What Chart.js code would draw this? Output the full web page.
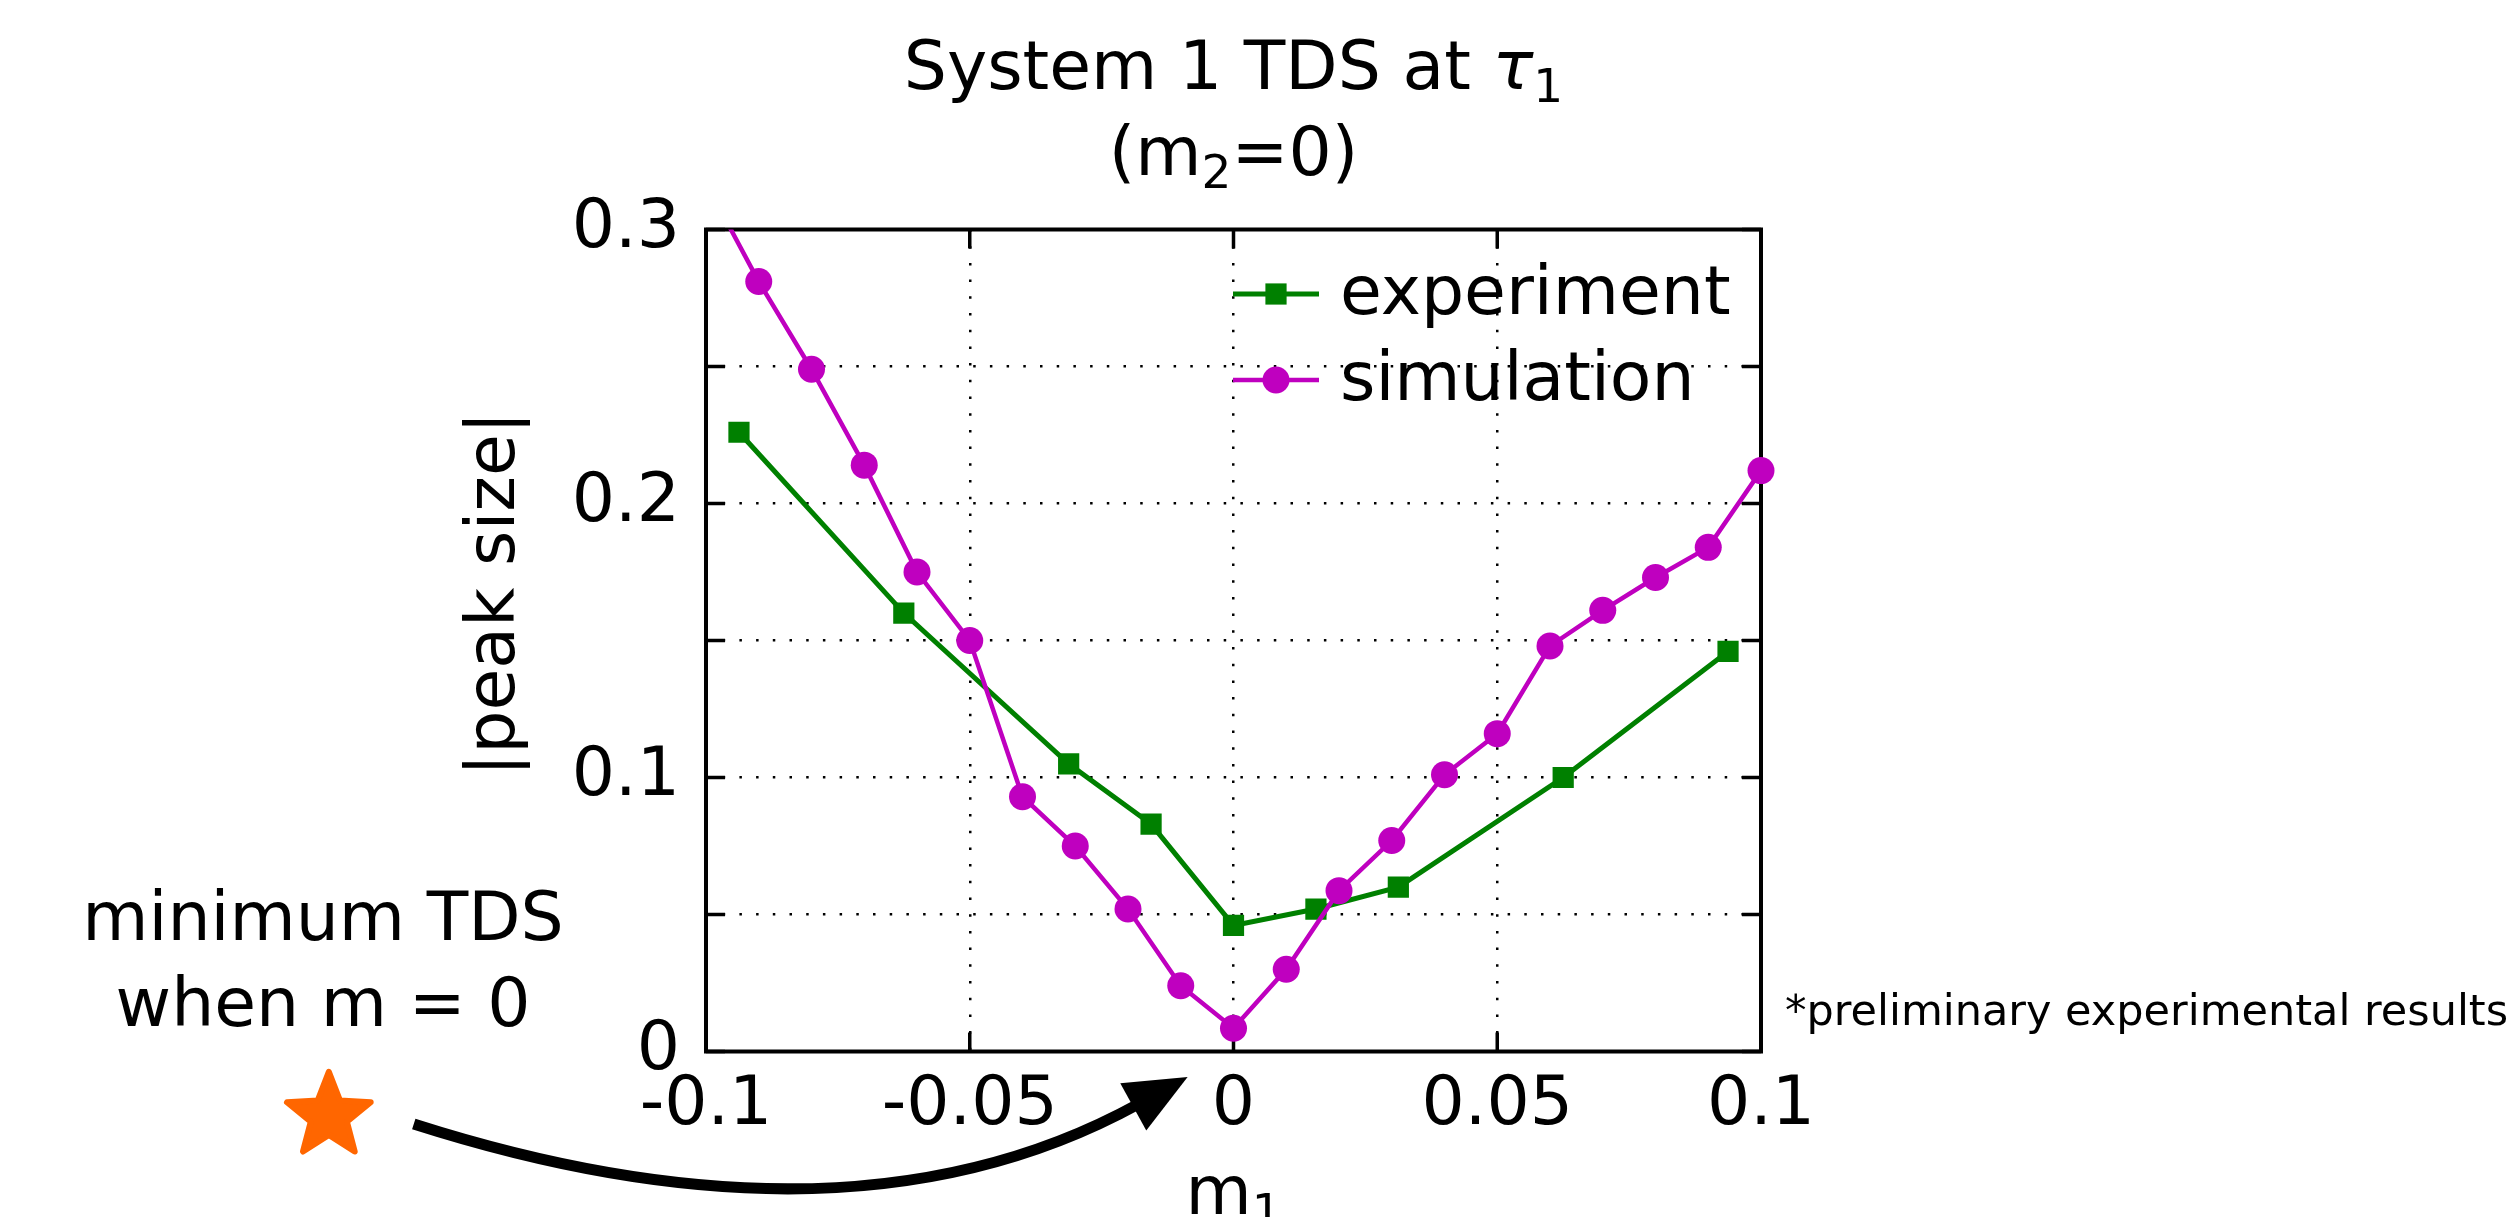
<!DOCTYPE html>
<html>
<head>
<meta charset="utf-8">
<title>System 1 TDS at τ1</title>
<script src="https://cdn.jsdelivr.net/npm/chart.js@4.4.1/dist/chart.umd.min.js"></script>
<style>
  html, body { margin: 0; padding: 0; background: #fff; overflow: hidden; }
  #wrap { position: relative; width: 2517px; height: 1217px; }
</style>
</head>
<body>
<div id="wrap"><canvas id="chart"></canvas></div>
<script>
// measured peak size vs m1 (experiment) and simulated peak size vs m1
const expM1 = [-0.09375, -0.0625, -0.03125, -0.015625, 0, 0.015625, 0.03125, 0.0625, 0.09375];
const expPeak = [0.226, 0.160, 0.105, 0.083, 0.046, 0.052, 0.060, 0.100, 0.146];

const simM1 = [-0.1, -0.09, -0.08, -0.07, -0.06, -0.05, -0.04, -0.03, -0.02, -0.01, 0,
  0.01, 0.02, 0.03, 0.04, 0.05, 0.06, 0.07, 0.08, 0.09, 0.1];
const simPeak = [0.317, 0.281, 0.249, 0.214, 0.175, 0.150, 0.093, 0.075, 0.052, 0.024, 0.0085,
  0.030, 0.0587, 0.077, 0.101, 0.116, 0.148, 0.161, 0.173, 0.184, 0.212];

const xTicks = [-0.1, -0.05, 0, 0.05, 0.1];
const yTicks = [0, 0.05, 0.1, 0.15, 0.2, 0.25, 0.3];
const yLabelled = [0, 0.1, 0.2, 0.3];

const FONT = 'DejaVu Sans';
const GREEN = '#008000';
const MAGENTA = '#bf00bf';
const TICK_LEN = 19;

const fmt = (v) => String(Number(v.toFixed(4)));

// draws a list of text runs (for sub-scripts) centred on cx
function drawRuns(ctx, runs, cx, baseline) {
  let total = 0;
  runs.forEach(r => { ctx.font = r.font; r.w = ctx.measureText(r.text).width; total += r.w; });
  let x = cx - total / 2;
  ctx.textAlign = 'left';
  ctx.textBaseline = 'alphabetic';
  runs.forEach(r => {
    ctx.font = r.font;
    ctx.fillText(r.text, x, baseline + (r.dy || 0));
    x += r.w;
  });
}

const big = `68px "${FONT}"`;
const bigItalic = `italic 68px "${FONT}"`;
const sub = `47px "${FONT}"`;

const figureDecor = {
  id: 'figureDecor',
  beforeDatasetsDraw(chart) {
    const { ctx, chartArea: a, scales: { x, y } } = chart;
    ctx.save();
    ctx.strokeStyle = '#000';
    ctx.lineWidth = 3.5;
    ctx.beginPath();
    x.ticks.forEach(t => {
      const p = x.getPixelForValue(t.value);
      ctx.moveTo(p, a.bottom); ctx.lineTo(p, a.bottom - TICK_LEN);
      ctx.moveTo(p, a.top); ctx.lineTo(p, a.top + TICK_LEN);
    });
    y.ticks.forEach(t => {
      const p = y.getPixelForValue(t.value);
      ctx.moveTo(a.left, p); ctx.lineTo(a.left + TICK_LEN, p);
      ctx.moveTo(a.right, p); ctx.lineTo(a.right - TICK_LEN, p);
    });
    ctx.stroke();
    ctx.lineWidth = 4;
    ctx.strokeRect(a.left, a.top, a.right - a.left, a.bottom - a.top);
    ctx.restore();
  },
  afterDraw(chart) {
    const { ctx, chartArea: a, scales: { x, y } } = chart;
    const cx = (a.left + a.right) / 2;
    ctx.save();
    ctx.fillStyle = '#000';

    // title
    drawRuns(ctx, [
      { text: 'System 1 TDS at ', font: big },
      { text: 'τ', font: bigItalic },
      { text: '1', font: sub, dy: 13 }
    ], cx, a.top - 141);
    drawRuns(ctx, [
      { text: '(m', font: big },
      { text: '2', font: sub, dy: 13 },
      { text: '=0)', font: big }
    ], cx, a.top - 55);

    // x label
    drawRuns(ctx, [
      { text: 'm', font: big },
      { text: '1', font: sub, dy: 13 }
    ], cx, a.bottom + 162);

    // y label
    ctx.save();
    ctx.translate(x.getPixelForValue(-0.1364), y.getPixelForValue(0.167));
    ctx.rotate(-Math.PI / 2);
    ctx.font = big;
    ctx.textAlign = 'center';
    ctx.textBaseline = 'alphabetic';
    ctx.fillText('|peak size|', 0, 0);
    ctx.restore();

    // legend (line + marker + label), top right inside the axes
    const legendOrder = [0, 1];
    legendOrder.forEach((di, row) => {
      const ds = chart.data.datasets[di];
      const yc = a.top + 64.5 + row * 86;
      const x0 = a.right - 528, x1 = a.right - 442;
      ctx.strokeStyle = ds.borderColor;
      ctx.lineWidth = ds.borderWidth;
      ctx.beginPath(); ctx.moveTo(x0, yc); ctx.lineTo(x1, yc); ctx.stroke();
      ctx.fillStyle = ds.pointBackgroundColor;
      Chart.helpers.drawPoint(ctx, { pointStyle: ds.pointStyle, radius: ds.pointRadius, rotation: 0, borderWidth: 0 }, (x0 + x1) / 2, yc);
      ctx.fillStyle = '#000';
      ctx.font = big;
      ctx.textAlign = 'left';
      ctx.textBaseline = 'alphabetic';
      ctx.fillText(ds.label, a.right - 421, yc + 20);
    });

    // annotation text
    ctx.font = big;
    ctx.textAlign = 'center';
    ctx.fillText('minimum TDS', x.getPixelForValue(-0.1726), y.getPixelForValue(0.0407));
    ctx.fillText('when m = 0', x.getPixelForValue(-0.1726), y.getPixelForValue(0.0093));

    // star
    const sx = x.getPixelForValue(-0.1715), sy = y.getPixelForValue(-0.0235);
    const R = 44, r = 19;
    ctx.fillStyle = '#ff6600';
    ctx.strokeStyle = '#ff6600';
    ctx.lineWidth = 6;
    ctx.lineJoin = 'round';
    ctx.beginPath();
    for (let i = 0; i < 10; i++) {
      const ang = -Math.PI / 2 + i * Math.PI / 5;
      const rad = i % 2 ? r : R;
      const px = sx + rad * Math.cos(ang), py = sy + rad * Math.sin(ang);
      i ? ctx.lineTo(px, py) : ctx.moveTo(px, py);
    }
    ctx.closePath();
    ctx.fill();
    ctx.stroke();

    // curved arrow towards m1 = 0
    const S = { x: x.getPixelForValue(-0.1554), y: y.getPixelForValue(-0.0265) };
    const C = { x: x.getPixelForValue(-0.0729), y: y.getPixelForValue(-0.0772) };
    const T = { x: x.getPixelForValue(-0.0087), y: y.getPixelForValue(-0.0093) };
    const dx = T.x - C.x, dy = T.y - C.y, len = Math.hypot(dx, dy);
    const ux = dx / len, uy = dy / len;
    const headL = 62, headW = 54;
    const B = { x: T.x - ux * headL, y: T.y - uy * headL };
    ctx.strokeStyle = '#000';
    ctx.fillStyle = '#000';
    ctx.lineWidth = 11;
    ctx.lineJoin = 'miter';
    ctx.beginPath();
    ctx.moveTo(S.x, S.y);
    ctx.quadraticCurveTo(C.x, C.y, B.x + ux * 6, B.y + uy * 6);
    ctx.stroke();
    ctx.beginPath();
    ctx.moveTo(T.x, T.y);
    ctx.lineTo(B.x - uy * headW / 2, B.y + ux * headW / 2);
    ctx.lineTo(B.x + uy * headW / 2, B.y - ux * headW / 2);
    ctx.closePath();
    ctx.fill();

    // footnote
    ctx.font = `43px "${FONT}"`;
    ctx.textAlign = 'left';
    ctx.fillText('*preliminary experimental results', a.right + 24, a.bottom - 27);
    ctx.restore();
  }
};

Chart.defaults.font.family = FONT;
Chart.defaults.color = '#000';

const pts = (xs, ys) => xs.map((v, i) => ({ x: v, y: ys[i] }));
const edgeClip = { left: 20, right: 20, top: 0, bottom: 20 };

new Chart(document.getElementById('chart'), {
  type: 'line',
  data: {
    datasets: [
      {
        label: 'experiment',
        data: pts(expM1, expPeak),
        borderColor: GREEN,
        backgroundColor: GREEN,
        pointBackgroundColor: GREEN,
        borderWidth: 5,
        pointStyle: 'rect',
        pointRadius: 15,
        pointBorderWidth: 0,
        tension: 0,
        clip: edgeClip,
        order: 1
      },
      {
        label: 'simulation',
        data: pts(simM1, simPeak),
        borderColor: MAGENTA,
        backgroundColor: MAGENTA,
        pointBackgroundColor: MAGENTA,
        borderWidth: 4.5,
        pointStyle: 'circle',
        pointRadius: 13.5,
        pointBorderWidth: 0,
        tension: 0,
        clip: edgeClip,
        order: 0
      }
    ]
  },
  options: {
    responsive: true,
    maintainAspectRatio: false,
    animation: false,
    devicePixelRatio: 1,
    layout: { padding: { left: 0, top: 229.5, right: 756, bottom: 0 } },
    plugins: {
      legend: { display: false },
      title: { display: false },
      tooltip: { enabled: false }
    },
    scales: {
      x: {
        type: 'linear',
        min: -0.1,
        max: 0.1,
        afterBuildTicks: (scale) => { scale.ticks = xTicks.map(v => ({ value: v })); },
        afterFit: (scale) => { scale.height = 165.5; },
        ticks: {
          font: { size: 68 },
          padding: 14,
          maxRotation: 0,
          autoSkip: false,
          callback: (v) => fmt(v)
        },
        grid: { color: '#000', lineWidth: 2.5, drawTicks: false },
        border: { display: false, dash: [2.5, 14.2] }
      },
      y: {
        min: 0,
        max: 0.3,
        afterBuildTicks: (scale) => { scale.ticks = yTicks.map(v => ({ value: v })); },
        afterFit: (scale) => { scale.width = 706; },
        ticks: {
          font: { size: 68 },
          padding: 26,
          autoSkip: false,
          callback: (v) => yLabelled.some(t => Math.abs(t - v) < 1e-9) ? fmt(v) : ''
        },
        grid: { color: '#000', lineWidth: 2.5, drawTicks: false },
        border: { display: false, dash: [2.5, 14.2] }
      }
    }
  },
  plugins: [figureDecor]
});
</script>
</body>
</html>
